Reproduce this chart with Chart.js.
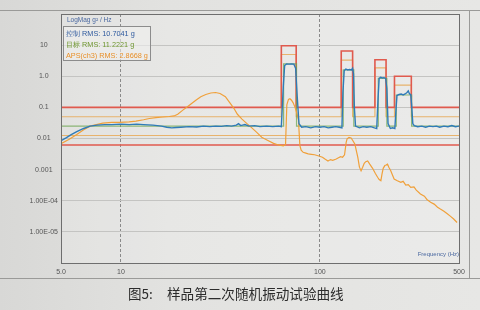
<!DOCTYPE html>
<html><head><meta charset="utf-8">
<script src="https://cdn.jsdelivr.net/npm/chart.js@4.4.1/dist/chart.umd.min.js"></script>
<style>
html,body{margin:0;padding:0;}
body{width:480px;height:310px;background:linear-gradient(90deg,#d8d8d6 0%,#e2e2e0 35%,#e7e7e5 100%);position:relative;overflow:hidden;font-family:"Liberation Sans",Arial,sans-serif;}
#wrap{position:absolute;left:0;top:0;width:480px;height:310px;}
.t{position:absolute;white-space:nowrap;line-height:1;}
#leg{position:absolute;left:63px;top:26px;width:88px;height:35px;border:1px solid #8c8c8c;box-sizing:border-box;background:rgba(240,240,238,0.6);}
#leg div{position:absolute;left:2px;font-size:7.3px;white-space:nowrap;line-height:1;}
</style></head><body>
<div id="wrap"><canvas id="c" width="480" height="310"></canvas></div>
<div class="t" style="left:67px;top:17px;font-size:6.5px;color:#4a68a0;">LogMag g² / Hz</div>
<div id="leg">
  <div style="top:2.5px;color:#2f5a9e;">控制 RMS: 10.7041 g</div>
  <div style="top:13.5px;color:#6f9630;">目标 RMS: 11.2221 g</div>
  <div style="top:24.5px;color:#e8902a;">APS(ch3) RMS: 2.8668 g</div>
</div>
<div class="t" style="right:21px;top:251px;font-size:6px;color:#4a68a0;">Frequency (Hz)</div>
<div class="t" style="left:128px;top:287px;font-size:13.5px;color:#2c2c2c;font-family:'Noto Sans CJK SC',sans-serif;">图5:</div>
<div class="t" style="left:167px;top:287px;font-size:13.6px;color:#2c2c2c;font-family:'Noto Sans CJK SC',sans-serif;">样品第二次随机振动试验曲线</div>
<script>
// ---- data ----
const xTicks = [5, 10, 100, 500];
const xTickLabels = ['5.0', '10', '100', '500'];
const yTicks = [1e-6, 1e-5, 1e-4, 1e-3, 0.01, 0.1, 1, 10, 100];
const yTickLabels = ['', '1.00E-05', '1.00E-04', '0.001', '0.01', '0.1', '1.0', '10', ''];

// control (控制)
const ctrlFreq = [5.0,5.3,5.6,6.0,6.5,7.0,7.6,8.3,9.0,10,11,12,13,14.5,16,17,18,19,20,22,24,26,28,30,32,34,36,38,39,40,42,44,47,50,54,58,62,64,65.5,66.5,68,70,72,74,75.5,77,78.5,81,85,90,95,100,105,110,115,120,125,129,130.5,132.5,135,138,141,144,146,147.5,149,151,158,165,172,180,188,193,196,198.5,202,206,210,214,217,220,226,232,238,241,244,250,256,262,268,274,278,282,286,289,293,298,310,325,340,355,370,385,400,420,440,460,480,500];
const ctrlVal = [0.0085,0.0105,0.013,0.0165,0.021,0.025,0.027,0.028,0.028,0.029,0.028,0.029,0.028,0.027,0.025,0.023,0.022,0.0225,0.023,0.024,0.0235,0.025,0.024,0.025,0.0245,0.026,0.025,0.027,0.030,0.026,0.028,0.025,0.026,0.024,0.025,0.024,0.025,0.024,0.5,2.2,2.5,2.45,2.5,2.45,1.8,0.2,0.03,0.023,0.024,0.022,0.024,0.023,0.024,0.022,0.023,0.024,0.023,0.022,0.3,1.5,1.7,1.6,1.65,1.6,1.8,1.2,0.1,0.025,0.022,0.024,0.023,0.024,0.022,0.021,0.2,0.85,0.92,0.88,0.9,0.85,0.4,0.03,0.021,0.022,0.021,0.08,0.24,0.26,0.27,0.25,0.27,0.3,0.34,0.27,0.26,0.12,0.03,0.026,0.024,0.025,0.023,0.025,0.024,0.025,0.023,0.025,0.024,0.026,0.024,0.025];

// APS(ch3)
const apsFreq = [5,5.5,6.0,6.5,7.0,8.1,9.0,9.85,11.0,11.9,13.0,13.9,15.0,16.2,17.5,18.5,19.3,20.4,22,23.8,25.2,26.7,28.3,29.9,31.5,33.5,35,36.9,38.5,40.6,43,45.5,48,51,55.1,58.5,61.9,65.5,67.2,68.2,69.5,70.7,72,73.4,75,76.3,78,79.3,80.5,82.4,85,87.3,90.6,94,97.9,103,106,109.8,113,116,120.8,124,127,130,133,135.5,137,140,143.5,146.5,150,152.5,155,158,161,164,167,170,173.8,178,184,190,195,198.5,202.5,205,208,212,215,218.7,222,227,231,236,245,255,262,270,278,286,297,305,320,335,345,360,375,390,403,420,435,452,470,489];
const apsVal = [0.0068,0.0095,0.0135,0.019,0.025,0.031,0.033,0.033,0.034,0.036,0.04,0.044,0.047,0.049,0.051,0.053,0.06,0.08,0.115,0.17,0.22,0.26,0.29,0.3,0.28,0.22,0.15,0.095,0.06,0.042,0.03,0.022,0.016,0.011,0.0085,0.007,0.0062,0.0058,0.0065,0.12,0.18,0.19,0.17,0.14,0.1,0.07,0.04,0.006,0.0042,0.0036,0.0034,0.0032,0.0031,0.003,0.0028,0.0025,0.0022,0.0019,0.0021,0.002,0.0022,0.0024,0.0026,0.0025,0.003,0.0075,0.0098,0.0108,0.0104,0.0085,0.0065,0.004,0.0025,0.0012,0.00092,0.0012,0.0016,0.0018,0.0019,0.0015,0.0011,0.00075,0.00057,0.00048,0.00044,0.0007,0.0011,0.00135,0.0014,0.0015,0.0012,0.00092,0.0007,0.0005,0.00044,0.00039,0.00042,0.00032,0.00033,0.00027,0.00028,0.00022,0.000165,0.00014,0.00011,0.00009,0.000078,0.000062,0.000054,0.000046,0.000039,0.000032,0.000026,0.00002];

// profile (目标) and alarm / abort limits
const targetFreq = [5,65.7,65.7,76.3,76.3,131,131,148,148,196.5,196.5,217,217,242,242,289,289,500];
const targetVal  = [0.025,0.025,2.5,2.5,0.025,0.025,1.6,1.6,0.025,0.025,0.85,0.85,0.025,0.025,0.25,0.25,0.025,0.025];
const limFreq  = [5,64,64,76,76,128,128,146,146,189,189,215,215,237,237,288,288,500];
const alarmHi  = [0.05,0.05,5,5,0.05,0.05,3.3,3.3,0.05,0.05,1.85,1.85,0.05,0.05,0.52,0.52,0.05,0.05];
const abortHi  = [0.1,0.1,9.6,9.6,0.1,0.1,6.5,6.5,0.1,0.1,3.4,3.4,0.1,0.1,1.0,1.0,0.1,0.1];
const lowFreq  = [5,500];
const alarmLo  = [0.0125,0.0125];
const abortLo  = [0.0062,0.0062];

const pts = (f, v) => f.map((x, i) => ({x: x, y: v[i]}));
const line = (data, color, w) => ({data: data, borderColor: color, borderWidth: w, pointRadius: 0, tension: 0, fill: false});

const framePlugin = {
  id: 'frame',
  beforeDraw(chart) {
    const c = chart.ctx, a = chart.chartArea;
    c.save();
    c.fillStyle = 'rgba(255,255,255,0.18)';
    c.fillRect(a.left, a.top, a.right - a.left, a.bottom - a.top);
    c.strokeStyle = '#9a9a98'; c.lineWidth = 1;
    c.beginPath(); c.moveTo(0, 10.5); c.lineTo(480, 10.5); c.moveTo(0, 278.5); c.lineTo(480, 278.5);
    c.moveTo(469.5, 10); c.lineTo(469.5, 278); c.stroke();
    c.restore();
  },
  afterDatasetsDraw(chart) {
    const c = chart.ctx, a = chart.chartArea;
    c.save();
    c.strokeStyle = '#6e6e6e'; c.lineWidth = 1;
    c.strokeRect(Math.round(a.left) + 0.5, Math.round(a.top) + 0.5, Math.round(a.right - a.left), Math.round(a.bottom - a.top));
    c.restore();
  }
};

new Chart(document.getElementById('c'), {
  type: 'line',
  data: {
    datasets: [
      line(pts(ctrlFreq, ctrlVal), '#2f7bb8', 1.4),
      line(pts(apsFreq, apsVal), '#f0a03a', 1.2),
      line(pts(targetFreq, targetVal), 'rgba(110,165,80,0.75)', 1.2),
      line(pts(limFreq, abortHi), '#e05a4e', 1.6),
      line(pts(limFreq, alarmHi), '#e8b36c', 1.2),
      line(pts(lowFreq, alarmLo), '#e8b36c', 1.2),
      line(pts(lowFreq, abortLo), '#e05a4e', 1.6)
    ]
  },
  options: {
    responsive: false, animation: false, parsing: true,
    layout: {padding: {left: 0, right: 21, top: 14, bottom: 0}},
    plugins: {legend: {display: false}, tooltip: {enabled: false}},
    scales: {
      x: {
        type: 'logarithmic', min: 5, max: 500,
        afterBuildTicks: s => { s.ticks = xTicks.map(v => ({value: v})); },
        afterFit: s => { s.height = 47; },
        ticks: {callback: (v, i) => xTickLabels[i], autoSkip: false, maxRotation: 0, font: {size: 7, family: 'Liberation Sans'}, color: '#555', padding: 5},
        grid: {color: ctx => (ctx.tick && (ctx.tick.value === 10 || ctx.tick.value === 100)) ? '#8a8a8a' : 'rgba(0,0,0,0)', drawTicks: false, lineWidth: 1},
        border: {display: false, dash: [3, 2]}
      },
      y: {
        type: 'logarithmic', min: 1e-6, max: 100,
        afterBuildTicks: s => { s.ticks = yTicks.map(v => ({value: v})); },
        afterFit: s => { s.width = 61; },
        ticks: {callback: (v, i) => yTickLabels[i], autoSkip: false, crossAlign: 'center', font: {size: 7, family: 'Liberation Sans'}, color: '#555', padding: 3},
        grid: {color: '#c4c4c2', drawTicks: false, lineWidth: 1},
        border: {display: false}
      }
    }
  },
  plugins: [framePlugin]
});
</script>
</body></html>
